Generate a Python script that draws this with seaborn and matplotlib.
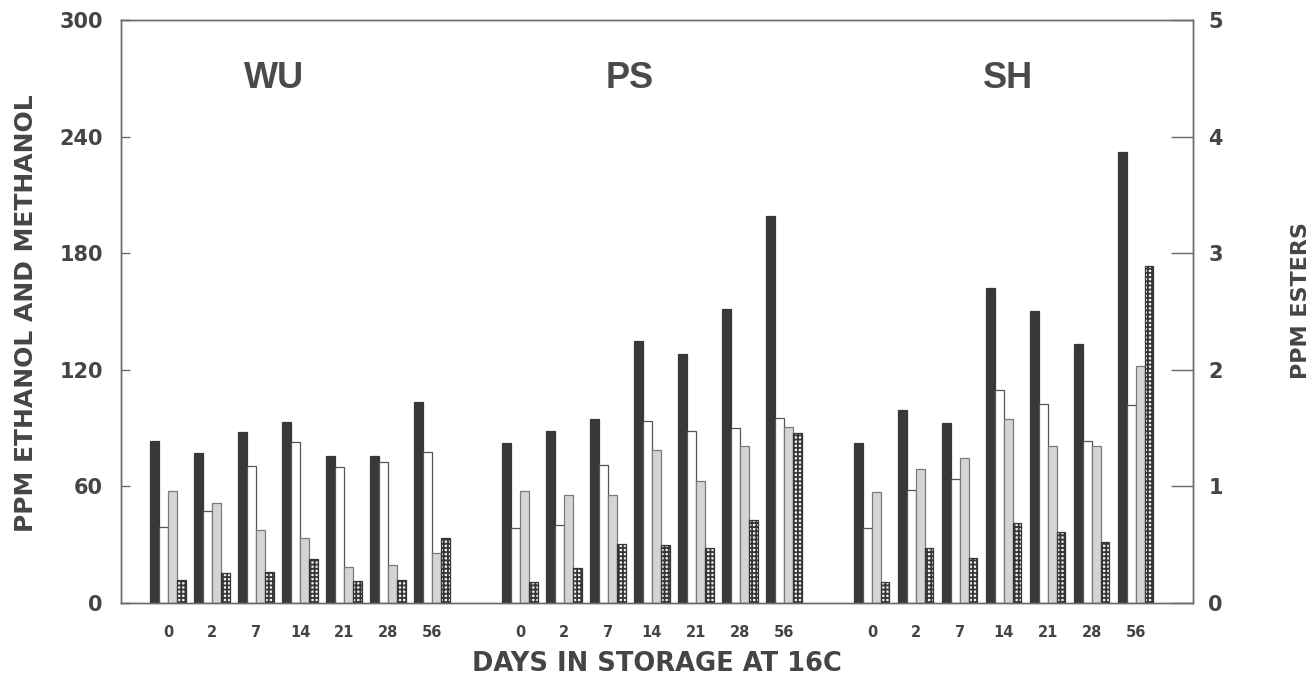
import numpy as np
import pandas as pd
import matplotlib
matplotlib.use("Agg")
import matplotlib.pyplot as plt
import seaborn as sns

# ---- data ----
groups = ["WU", "PS", "SH"]
days = ["0", "2", "7", "14", "21", "28", "56"]

# PPM (left axis)
ethanol = {
    "WU": [83.5, 77.4, 88.2, 93.0, 75.8, 75.8, 103.6],
    "PS": [82.5, 88.5, 94.5, 135.0, 128.2, 151.1, 199.2],
    "SH": [82.2, 99.3, 92.5, 162.0, 150.3, 133.1, 232.3],
}
methanol = {
    "WU": [39.3, 47.5, 70.5, 82.7, 70.2, 72.4, 77.9],
    "PS": [38.4, 40.1, 71.0, 93.7, 88.5, 89.9, 95.0],
    "SH": [38.4, 58.2, 63.8, 109.6, 102.4, 83.4, 101.9],
}
# PPM esters (right axis)
ester_a = {
    "WU": [0.96, 0.86, 0.63, 0.56, 0.31, 0.33, 0.43],
    "PS": [0.96, 0.93, 0.93, 1.31, 1.05, 1.35, 1.51],
    "SH": [0.95, 1.15, 1.24, 1.58, 1.35, 1.35, 2.03],
}
ester_b = {
    "WU": [0.20, 0.26, 0.27, 0.38, 0.19, 0.20, 0.56],
    "PS": [0.18, 0.30, 0.51, 0.50, 0.47, 0.71, 1.46],
    "SH": [0.18, 0.47, 0.39, 0.69, 0.61, 0.52, 2.89],
}
series = ["Ethanol", "Methanol", "Ester A", "Ester B"]

LEFT_MAX = 300
RIGHT_MAX = 5
factor = LEFT_MAX / RIGHT_MAX

rows = []
for g_i, g in enumerate(groups):
    for d_i, d in enumerate(days):
        slot = g_i * (len(days) + 1) + d_i
        rows.append((slot, "Ethanol", ethanol[g][d_i]))
        rows.append((slot, "Methanol", methanol[g][d_i]))
        rows.append((slot, "Ester A", ester_a[g][d_i] * factor))
        rows.append((slot, "Ester B", ester_b[g][d_i] * factor))
df = pd.DataFrame(rows, columns=["slot", "series", "value"])

sns.set_style("white")
plt.rcParams["font.family"] = ["DejaVu Sans"]
plt.rcParams["hatch.linewidth"] = 1.3

TXT = "#454545"
SP = "#6a6a6a"

fig = plt.figure(figsize=(13.11, 6.78), dpi=100)
ax = fig.add_axes([121 / 1311, 1 - 603 / 678, (1193 - 121) / 1311, (603 - 20) / 678])

face = {"Ethanol": "#383838", "Methanol": "#ffffff", "Ester A": "#d4d4d4", "Ester B": "#eeeeee"}
sns.barplot(data=df, x="slot", y="value", hue="series", hue_order=series,
            palette=face, native_scale=True, width=0.8, dodge=True,
            saturation=1, legend=False, ax=ax, errorbar=None)

edge = {"Ethanol": "#383838", "Methanol": "#555555", "Ester A": "#7a7a7a", "Ester B": "#353535"}
for cont, s in zip(ax.containers, series):
    for p in cont:
        p.set_edgecolor(edge[s])
        p.set_linewidth(0.9)
        if s == "Ester B":
            p.set_hatch("++++")

ax.set_xlim(-1.07, 23.3)
ax.set_ylim(0, LEFT_MAX)
ax.set_yticks(np.arange(0, 301, 60))

ticks = []
labels = []
for g_i in range(len(groups)):
    for d_i, d in enumerate(days):
        ticks.append(g_i * (len(days) + 1) + d_i)
        labels.append(d)
ax.set_xticks(ticks)
ax.set_xticklabels(labels, fontsize=10.5, fontweight="bold", color=TXT)
ax.tick_params(axis="x", length=0, pad=16)
ax.tick_params(axis="y", direction="in", length=6.5, width=1, color=SP,
               labelsize=15, pad=13, labelcolor=TXT)
for t in ax.get_yticklabels():
    t.set_fontweight("bold")

for sp in ax.spines.values():
    sp.set_color(SP)
    sp.set_linewidth(1)

ax.set_xlabel("DAYS IN STORAGE AT 16C", fontsize=18.5, fontweight="bold", color=TXT)
ax.xaxis.set_label_coords(0.5, -0.083)
ax.set_ylabel("PPM ETHANOL AND METHANOL", fontsize=18, fontweight="bold", color=TXT)
ax.yaxis.set_label_coords(-0.0774, 0.497)

ax2 = ax.twinx()
ax2.set_ylim(0, RIGHT_MAX)
ax2.set_yticks(np.arange(0, 6, 1))
ax2.tick_params(axis="y", direction="in", length=16, width=1, color=SP,
                labelsize=15, pad=11, labelcolor=TXT)
for t in ax2.get_yticklabels():
    t.set_fontweight("bold")
for sp in ax2.spines.values():
    sp.set_color(SP)
    sp.set_linewidth(1)
ax2.set_ylabel("PPM ESTERS", fontsize=16, fontweight="bold", color=TXT)
ax2.yaxis.set_label_coords(1.091, 0.518)

title_x = [2.4, 10.5, 19.1]
for g, tx in zip(groups, title_x):
    ax.text(tx, 270, g, fontsize=26, fontweight="bold", color="#4a4a4a",
            ha="center", va="center", family="Liberation Sans")

fig.savefig("out.png", dpi=100)
